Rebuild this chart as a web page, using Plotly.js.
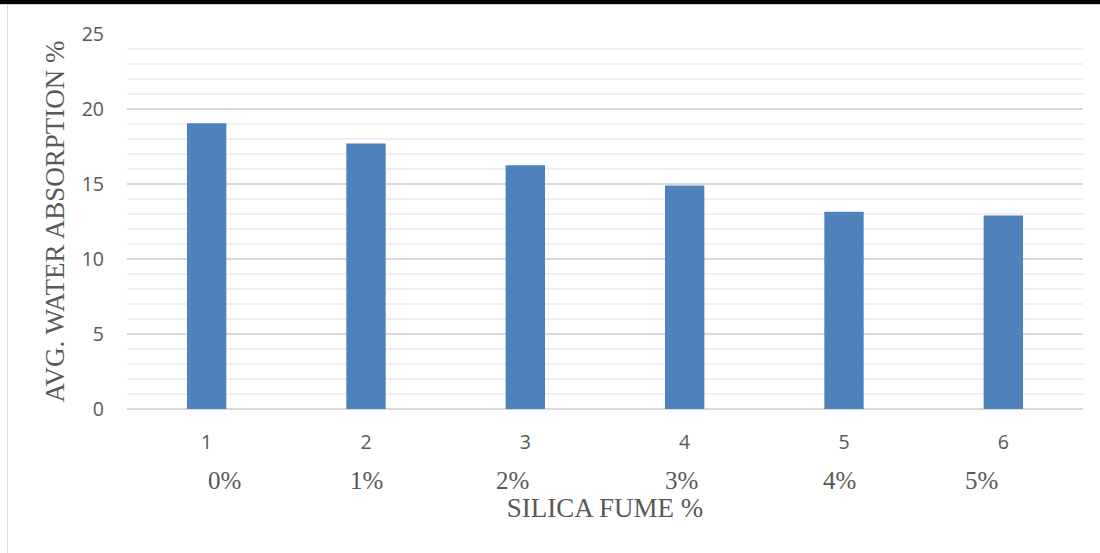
<!DOCTYPE html>
<html>
<head>
<meta charset="utf-8">
<script src="https://cdn.plot.ly/plotly-3.0.1.min.js"></script>
<style>
  html, body { margin: 0; padding: 0; background: #ffffff; }
  #wrap { position: relative; width: 1100px; height: 553px; overflow: hidden; }
  #chart { width: 1100px; height: 553px; }
  .topRule { position: absolute; left: 0; top: 0; width: 1100px; height: 4px; background: #000; pointer-events: none; }
  .topRuleGrey { position: absolute; left: 0; top: 4px; width: 1100px; height: 1px; background: #d0d0d0; pointer-events: none; }
  .leftRule { position: absolute; left: 7px; top: 5px; width: 1px; height: 548px; background: #d9d9d9; pointer-events: none; }
</style>
</head>
<body>
<div id="wrap">
  <div id="chart"></div>
  <div class="topRule"></div>
  <div class="topRuleGrey"></div>
  <div class="leftRule"></div>
</div>
<script>
// Sample numbers on the category axis
const samples = [1, 2, 3, 4, 5, 6];
// Silica fume replacement level for each sample
const silicaLabels = ['0%', '1%', '2%', '3%', '4%', '5%'];
// Average water absorption (%)
const absorption = [19.05, 17.7, 16.25, 14.9, 13.15, 12.9];

// Horizontal offsets of the replacement-level labels relative to each sample
const labelShift = [0.11, 0.0, -0.08, -0.02, -0.03, -0.14];

const tickFont = { family: 'Open Sans, Liberation Sans, sans-serif', size: 19.5, color: '#595959' };
const serifFont = { family: 'Liberation Serif, Times New Roman, serif', size: 25, color: '#595959' };
const titleFont = { family: 'Liberation Serif, Times New Roman, serif', size: 27, color: '#595959' };

const trace = {
  type: 'bar',
  x: samples,
  y: absorption,
  marker: { color: '#4f81bd', line: { width: 0 } },
  width: 0.247,
  hoverinfo: 'x+y'
};

const annotations = samples.map((s, i) => ({
  x: s + labelShift[i],
  y: 0,
  xref: 'x',
  yref: 'y',
  yshift: -71,
  text: silicaLabels[i],
  showarrow: false,
  font: serifFont,
  xanchor: 'center',
  yanchor: 'middle'
}));

const layout = {
  width: 1100,
  height: 553,
  margin: { l: 127, r: 17, t: 34, b: 144, pad: 0 },
  paper_bgcolor: '#ffffff',
  plot_bgcolor: '#ffffff',
  showlegend: false,
  bargap: 0.75,
  xaxis: {
    type: 'linear',
    range: [0.5, 6.5],
    tickmode: 'array',
    tickvals: samples,
    ticktext: samples.map(String),
    showgrid: false,
    zeroline: false,
    showline: false,
    ticks: '',
    tickfont: tickFont,
    ticklabelstandoff: 19,
    title: {
      text: 'SILICA FUME %',
      font: titleFont,
      standoff: 44
    },
    automargin: false,
    fixedrange: true
  },
  yaxis: {
    range: [0, 25],
    tickmode: 'linear',
    tick0: 0,
    dtick: 5,
    showgrid: true,
    gridcolor: '#d9d9d9',
    gridwidth: 1.5,
    zeroline: true,
    zerolinecolor: '#d9d9d9',
    zerolinewidth: 1.5,
    showline: false,
    ticks: '',
    tickfont: tickFont,
    ticklabelstandoff: 22,
    minor: { dtick: 1, showgrid: true, gridcolor: '#f0f0f0', gridwidth: 1.5 },
    title: {
      text: 'AVG. WATER ABSORPTION %',
      font: titleFont,
      standoff: 9
    },
    automargin: false,
    fixedrange: true
  },
  annotations: annotations
};

Plotly.newPlot('chart', [trace], layout, { displayModeBar: false, staticPlot: true });
</script>
</body>
</html>
